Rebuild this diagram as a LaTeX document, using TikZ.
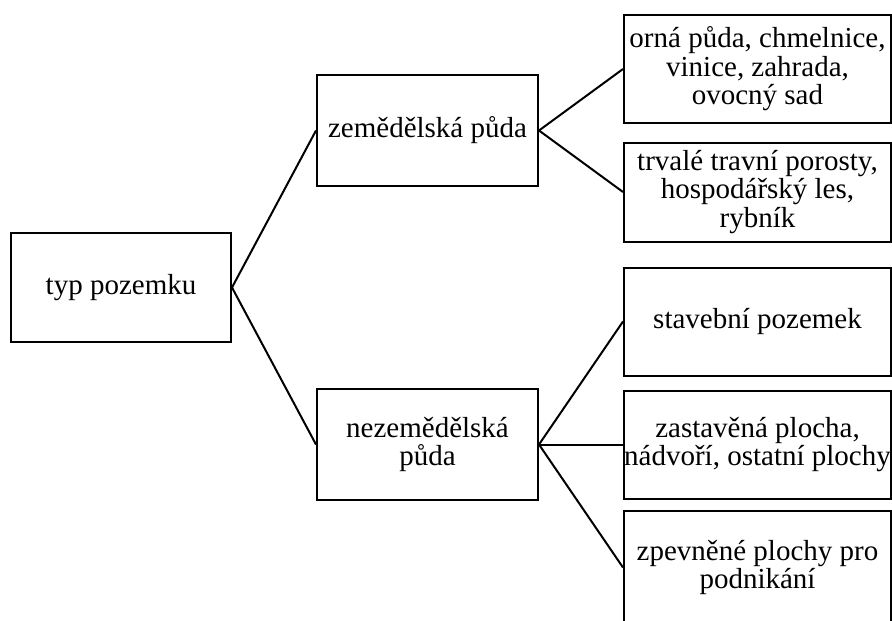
\documentclass[tikz,border=0pt]{standalone}
\usepackage{fontspec}
\setmainfont{Liberation Serif}
\begin{document}
\begin{tikzpicture}[x=1pt,y=1pt,line width=2pt,
    every node/.style={font=\fontsize{29}{28.5}\selectfont,align=center,inner sep=0pt},
    edge from parent/.style={draw,line width=2pt},
    rootbox/.style={rectangle,draw,minimum width=220pt,minimum height=109pt},
    midbox/.style={rectangle,draw,minimum width=221pt,minimum height=111pt},
    leafbox/.style={rectangle,draw,minimum width=267pt,minimum height=108pt}]
  \useasboundingbox (0,0) rectangle (892,-621);
  \node[rootbox] (typ) at (121,-287.5) {typ pozemku} [grow'=right,
      edge from parent path={(\tikzparentnode.east) -- (\tikzchildnode.west)},
      level 1/.style={level distance=306.5pt,sibling distance=314pt},
      level 2/.style={level distance=330pt,sibling distance=123pt}]
    child {node[midbox] (zem) {zemědělská půda}
      child {node[leafbox] (orna) {orná půda, chmelnice,\\vinice, zahrada,\\ovocný sad}}
      child {node[leafbox,minimum height=99pt] (trvale) {trvalé travní porosty,\\hospodářský les,\\rybník}}
      }
    child {node[midbox] (nezem) {nezemědělská\\půda}
      child {node[leafbox] (stav) {stavební pozemek}}
      child {node[leafbox] (zast) {zastavěná plocha,\\nádvoří, ostatní plochy}}
      child {node[leafbox,minimum height=114pt] (zpev) {zpevněné plochy pro\\podnikání}}
      };
\end{tikzpicture}
\end{document}
